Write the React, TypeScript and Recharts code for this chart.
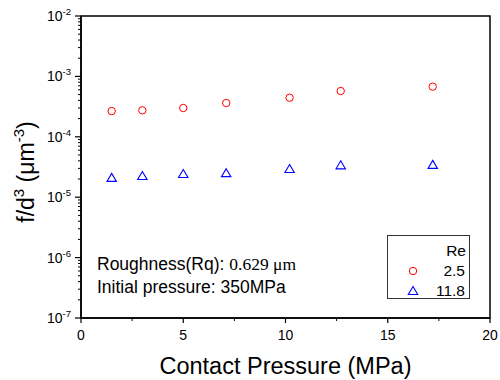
import React from "react";
import {
  ScatterChart,
  Scatter,
  XAxis,
  YAxis,
  ReferenceArea,
  Label,
} from "recharts";

const pressure = [1.5, 3, 5, 7.1, 10.2, 12.7, 17.2];
const re25 = [2.67e-4, 2.74e-4, 3.0e-4, 3.63e-4, 4.44e-4, 5.73e-4, 6.76e-4];
const re118 = [2.09e-5, 2.24e-5, 2.42e-5, 2.5e-5, 2.93e-5, 3.37e-5, 3.43e-5];

const xMajor = [0, 5, 10, 15, 20];
const xMinor = [2.5, 7.5, 12.5, 17.5];
const yExponents = [-7, -6, -5, -4, -3, -2];
const yMinorMult = [2, 3, 4, 5, 6, 7, 8, 9];

const seriesLabels = ["2.5", "11.8"];

const yMajor = yExponents.map((e) => Math.pow(10, e));
const yMinor = yExponents
  .slice(0, -1)
  .flatMap((e) => yMinorMult.map((m) => m * Math.pow(10, e)));

const data25 = pressure.map((x, i) => ({ x, y: re25[i] }));
const data118 = pressure.map((x, i) => ({ x, y: re118[i] }));

const FONT = "Arial, 'Liberation Sans', Helvetica, sans-serif";

const isMajorY = (v: number) => {
  const l = Math.log10(v);
  return Math.abs(l - Math.round(l)) < 1e-6;
};

const YTick = (props: any) => {
  const { x, y, payload } = props;
  const v = payload.value;
  if (!isMajorY(v)) {
    return <line x1={x} x2={x - 3} y1={y} y2={y} stroke="#000" strokeWidth={1} />;
  }
  const exp = Math.round(Math.log10(v));
  return (
    <g>
      <line x1={x} x2={x - 6} y1={y} y2={y} stroke="#000" strokeWidth={1.2} />
      <text x={x - 10} y={y + 5} textAnchor="end" fontFamily={FONT} fontSize={14} fill="#000">
        <tspan>10</tspan>
        <tspan dy={-6} fontSize={9.5}>{exp}</tspan>
      </text>
    </g>
  );
};

const XTick = (props: any) => {
  const { x, y, payload } = props;
  const v = payload.value;
  if (!xMajor.includes(v)) {
    return <line x1={x} x2={x} y1={y} y2={y + 3} stroke="#000" strokeWidth={1} />;
  }
  return (
    <g>
      <line x1={x} x2={x} y1={y} y2={y + 5} stroke="#000" strokeWidth={1.2} />
      <text x={x} y={y + 22} textAnchor="middle" fontFamily={FONT} fontSize={14} fill="#000">
        {v}
      </text>
    </g>
  );
};

const CircleShape = (props: any) => (
  <circle cx={props.cx} cy={props.cy} r={3.7} fill="none" stroke="#ff0000" strokeWidth={1} />
);

const TriangleShape = (props: any) => {
  const { cx, cy } = props;
  const pts = `${cx},${cy - 4.5} ${cx + 4.7},${cy + 3.5} ${cx - 4.7},${cy + 3.5}`;
  return <polygon points={pts} fill="none" stroke="#0000ff" strokeWidth={1.1} />;
};

const LegendBox = () => (
  <div
    style={{
      position: "absolute",
      left: 387,
      top: 235,
      width: 81,
      height: 62,
      border: "1px solid #333",
      background: "#fff",
      fontFamily: FONT,
      fontSize: 15.5,
      color: "#000",
    }}
  >
    <div style={{ position: "absolute", right: 3, top: 6, lineHeight: "18px" }}>Re</div>
    {seriesLabels.map((label, i) => (
      <div key={label} style={{ position: "absolute", left: 0, right: 0, top: 26 + i * 20, height: 18 }}>
        <svg width={20} height={18} style={{ position: "absolute", left: 15, top: 0 }}>
          {i === 0 ? (
            <circle cx={10} cy={9} r={3.7} fill="none" stroke="#ff0000" strokeWidth={1} />
          ) : (
            <polygon points="10,4.5 14.7,12.5 5.3,12.5" fill="none" stroke="#0000ff" strokeWidth={1.1} />
          )}
        </svg>
        <div style={{ position: "absolute", right: 4, top: 0, lineHeight: "18px" }}>{label}</div>
      </div>
    ))}
  </div>
);

const YTitle = (props: any) => {
  const vb = props.viewBox || {};
  const cx = 26;
  const cy = (vb.y ?? 16) + (vb.height ?? 302) / 2 + 5;
  return (
    <text
      x={cx}
      y={cy}
      transform={`rotate(-90, ${cx}, ${cy})`}
      textAnchor="middle"
      fontFamily={FONT}
      fontSize={23}
      fill="#000"
      dy={8}
    >
      <tspan>f/d</tspan>
      <tspan dy={-10} fontSize={15}>3</tspan>
      <tspan dy={10}> (μm</tspan>
      <tspan dy={-10} fontSize={15}>-3</tspan>
      <tspan dy={10}>)</tspan>
    </text>
  );
};

export default function App() {
  return (
    <div style={{ position: "absolute", left: 0, top: 0, width: 500, height: 380, background: "#fff" }}>
      <ScatterChart
        width={500}
        height={380}
        margin={{ top: 16, right: 10, bottom: 0, left: 0 }}
      >
        <XAxis
          type="number"
          dataKey="x"
          domain={[0, 20]}
          ticks={[...xMajor, ...xMinor]}
          tick={<XTick />}
          tickLine={false}
          tickSize={0}
          tickMargin={0}
          axisLine={{ stroke: "#000", strokeWidth: 1.5 }}
          height={62}
          interval={0}
          allowDataOverflow
        >
          <Label
            value="Contact Pressure (MPa)"
            position="insideBottom"
            offset={6}
            style={{ fontFamily: FONT, fontSize: 23.5, fill: "#000" }}
          />
        </XAxis>
        <YAxis
          type="number"
          dataKey="y"
          scale="log"
          domain={[1e-7, 1e-2]}
          ticks={[...yMajor, ...yMinor]}
          tick={<YTick />}
          tickLine={false}
          tickSize={0}
          tickMargin={0}
          axisLine={{ stroke: "#000", strokeWidth: 1.5 }}
          width={81}
          interval={0}
          allowDataOverflow
        >
          <Label content={<YTitle />} />
        </YAxis>
        <ReferenceArea
          x1={0}
          x2={20}
          y1={1e-7}
          y2={1e-2}
          fill="none"
          stroke="#000"
          strokeWidth={1.5}
          fillOpacity={0}
          ifOverflow="extendDomain"
        />
        <Scatter name="2.5" data={data25} shape={<CircleShape />} isAnimationActive={false} />
        <Scatter name="11.8" data={data118} shape={<TriangleShape />} isAnimationActive={false} />
      </ScatterChart>
      <LegendBox />
      <div
        style={{
          position: "absolute",
          left: 97,
          top: 253,
          fontFamily: FONT,
          fontSize: 17.5,
          lineHeight: "23px",
          color: "#000",
          whiteSpace: "nowrap",
        }}
      >
        <div>
          Roughness(Rq):{" "}
          <span style={{ fontFamily: "'Liberation Serif', 'Times New Roman', serif" }}>0.629 μm</span>
        </div>
        <div>Initial pressure: 350MPa</div>
      </div>
    </div>
  );
}
